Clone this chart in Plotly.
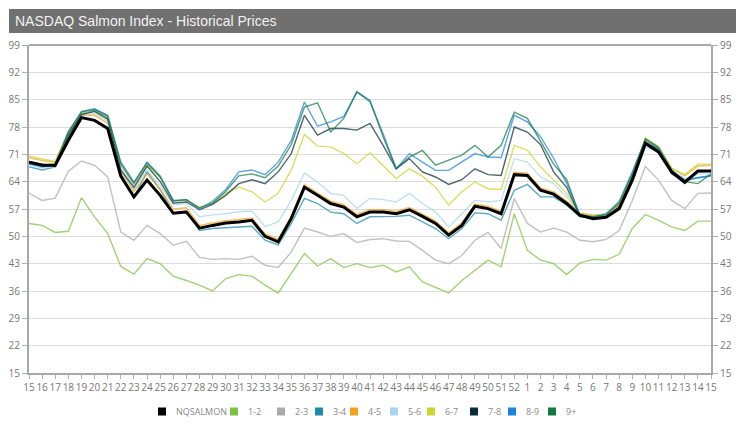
import plotly.graph_objects as go

weeks = [str(w) for w in range(15, 53)] + [str(w) for w in range(1, 16)]

nqsalmon = [69.0, 68.2, 68.2, 74.6, 80.4, 79.7, 77.6, 65.4, 60.1, 64.4, 60.5, 55.9, 56.2,
            52.1, 52.8, 53.4, 53.7, 54.1, 50.0, 48.6,
            54.6, 62.6, 60.5, 58.4, 57.5, 55.0, 56.2, 56.2, 55.8, 56.8, 55.1, 53.3, 50.3, 52.8, 57.7, 57.1, 55.8,
            65.8, 65.6, 61.8, 60.8, 58.4,
            55.4, 54.5, 54.9, 57.1, 64.4, 73.8, 71.6, 66.5, 63.9, 66.7, 66.7]
s12 = [53.3, 52.8, 51.0, 51.3, 59.9, 55.0, 50.7, 42.3, 40.3, 44.3, 43.0, 39.8, 38.7,
       37.5, 36.0, 39.2, 40.2, 39.8, 37.5, 35.5,
       40.5, 45.6, 42.4, 44.3, 42.0, 43.0, 42.0, 42.6, 40.9, 42.2, 38.3, 36.8, 35.5, 38.7, 41.3, 43.9, 42.2,
       55.8, 46.4, 43.9, 43.0, 40.2,
       43.2, 44.1, 43.9, 45.4, 52.0, 55.6, 54.1, 52.4, 51.5, 53.9, 53.9]
s23 = [61.1, 59.2, 59.8, 66.7, 69.3, 68.2, 65.2, 51.1, 49.0, 52.8, 50.7, 47.7, 48.7,
       44.6, 44.1, 44.3, 44.1, 44.9, 42.6, 42.0,
       46.0, 52.1, 51.1, 50.0, 50.7, 48.4, 49.2, 49.4, 48.8, 48.7, 46.4, 43.9, 43.0, 45.1, 49.0, 51.0, 46.9,
       59.7, 53.3, 51.1, 52.1, 51.1,
       49.0, 48.6, 49.2, 51.5, 59.2, 67.9, 64.4, 59.2, 57.1, 61.0, 61.1]
s34 = [67.8, 67.0, 67.8, 76.0, 81.3, 82.3, 80.3, 66.0, 60.0, 66.5, 62.0, 56.0, 56.5,
       51.5, 52.0, 52.2, 52.4, 52.6, 49.0, 47.8,
       53.3, 59.7, 58.4, 56.2, 55.8, 53.3, 55.0, 55.0, 55.1, 55.4, 53.7, 52.0, 49.4, 52.0, 56.0, 55.8, 54.1,
       61.8, 63.3, 60.1, 60.1, 58.0,
       55.0, 54.8, 55.5, 58.0, 65.5, 74.5, 72.0, 66.0, 64.2, 65.0, 65.5]
s45 = [70.2, 69.4, 69.0, 76.3, 81.0, 81.0, 79.0, 66.5, 61.5, 66.0, 62.0, 57.0, 57.3,
       52.8, 53.4, 54.0, 54.3, 54.7, 50.6, 49.2,
       55.2, 63.2, 61.1, 59.0, 58.1, 55.6, 56.8, 56.8, 56.4, 57.4, 55.7, 53.9, 50.9, 53.4, 58.3, 57.7, 56.4,
       66.4, 66.2, 62.4, 61.4, 59.0,
       56.0, 55.5, 55.5, 58.0, 65.0, 74.5, 72.5, 67.5, 65.5, 68.0, 68.2]
s56 = [68.3, 67.5, 67.8, 75.5, 80.8, 81.5, 79.5, 67.0, 62.0, 67.0, 63.0, 58.0, 58.3,
       55.0, 55.5, 55.8, 56.3, 56.5, 52.5, 53.7,
       59.2, 66.2, 63.9, 61.0, 60.5, 57.1, 59.7, 59.4, 58.8, 61.0, 58.4, 56.2, 52.4, 55.8, 59.2, 58.8, 59.2,
       69.9, 69.0, 65.2, 63.5, 60.1,
       55.5, 55.0, 55.3, 57.5, 64.5, 72.8, 71.8, 67.0, 64.8, 66.0, 66.0]
s67 = [70.6, 69.8, 69.2, 76.8, 81.5, 82.0, 80.2, 68.0, 63.2, 68.3, 65.0, 59.0, 59.2,
       57.5, 58.5, 61.0, 62.6, 61.4, 58.8, 61.0,
       67.0, 76.1, 73.1, 72.9, 71.2, 68.6, 71.4, 68.2, 64.8, 67.3, 65.4, 62.6, 58.0, 61.4, 63.9, 62.2, 62.0,
       73.3, 72.0, 67.8, 64.4, 61.0,
       55.8, 55.3, 55.8, 58.5, 65.2, 75.2, 73.0, 67.5, 65.8, 68.5, 68.5]
s78 = [69.2, 68.5, 68.0, 75.8, 81.2, 82.0, 80.0, 67.0, 62.5, 68.0, 64.0, 58.5, 58.8,
       56.8, 58.2, 60.5, 63.5, 64.5, 63.5, 66.5,
       71.2, 81.0, 75.9, 77.6, 77.6, 77.2, 78.9, 73.3, 67.3, 69.9, 66.5, 65.2, 63.3, 64.5, 67.3, 65.8, 65.6,
       78.0, 76.7, 73.5, 66.5, 62.5,
       55.2, 54.6, 55.0, 57.5, 65.0, 74.0, 72.2, 66.2, 63.5, 66.5, 66.8]
s89 = [68.5, 67.8, 68.2, 76.5, 82.0, 82.7, 81.0, 68.5, 63.5, 69.0, 65.5, 59.0, 59.4,
       57.0, 59.0, 62.0, 66.5, 67.0, 65.8, 69.0,
       74.6, 84.4, 78.2, 79.3, 80.7, 87.0, 84.4, 76.3, 67.3, 71.2, 69.0, 66.9, 66.9, 69.0, 71.2, 70.3, 70.2,
       81.0, 79.3, 75.5, 70.0, 63.5,
       55.6, 55.0, 55.8, 59.0, 66.5, 74.8, 72.5, 66.8, 64.5, 65.0, 65.5]
s9p = [69.0, 68.3, 68.5, 76.8, 81.8, 82.5, 80.8, 69.0, 63.9, 68.8, 65.2, 59.2, 59.4,
       57.3, 58.5, 61.5, 65.5, 66.0, 65.0, 68.0,
       73.5, 83.1, 84.2, 76.7, 80.2, 87.0, 84.8, 75.5, 67.3, 70.3, 72.0, 68.2, 69.5, 70.8, 73.3, 70.3, 73.3,
       81.8, 80.2, 74.5, 68.5, 64.5,
       55.3, 55.0, 55.5, 58.5, 66.0, 75.0, 72.8, 67.0, 64.0, 63.5, 66.0]

names = ["NQSALMON", "1-2", "2-3", "3-4", "4-5", "5-6", "6-7", "7-8", "8-9", "9+"]
series = [nqsalmon, s12, s23, s34, s45, s56, s67, s78, s89, s9p]
colors = ["#000000", "#7cc242", "#aaaaaa", "#1b8ba6", "#f5a31a", "#a9d7ea",
          "#c6d82a", "#0b2a3d", "#1c84e0", "#147a42"]
yticks = [15, 22, 29, 36, 43, 50, 57, 64, 71, 78, 85, 92, 99]

# page body has an 8px margin: work in screen pixels and shift by it
OFF = 8
W, H = 744 - 2 * OFF, 431 - 2 * OFF
L, R, T, B = 29 - OFF, 711 - OFF, 45 - OFF, 373 - OFF


def px(x):
    return (x - OFF - L) / (R - L)


def py(y):
    return (B - (y - OFF)) / (B - T)


xs = list(range(len(weeks)))
fig = go.Figure()
for name, vals, col in list(zip(names, series, colors))[1:] + [(names[0], series[0], colors[0])]:
    is_idx = name == "NQSALMON"
    fig.add_trace(go.Scatter(
        x=xs, y=vals, mode="lines", name=name,
        line=dict(color=col, width=3 if is_idx else 1.4),
        opacity=1.0 if is_idx else 0.72,
        showlegend=False, hoverinfo="skip"))
fig.add_trace(go.Scatter(x=[0], y=[None], yaxis="y2", showlegend=False, hoverinfo="skip"))

shapes = []
annotations = []
shapes.append(dict(type="rect", xref="paper", yref="paper",
                   x0=px(9), x1=px(744), y0=py(33), y1=py(9),
                   fillcolor="#707070", line=dict(width=0), layer="below"))
annotations.append(dict(text="NASDAQ Salmon Index - Historical Prices", xref="paper", yref="paper",
                        x=px(13), y=py(21), xanchor="left", yanchor="middle", showarrow=False,
                        font=dict(family="Liberation Sans, Arial", size=14, color="#f2f2f2")))
shapes.append(dict(type="line", xref="paper", yref="paper", x0=0, x1=1, y0=1, y1=1,
                   line=dict(color="#a8a8a8", width=2)))
leg_x = [158, 230, 277, 315, 350, 390, 427, 470, 508, 548]
for lx, name, col in zip(leg_x, names, colors):
    shapes.append(dict(type="rect", xref="paper", yref="paper",
                       x0=px(lx), x1=px(lx + 8), y0=py(415.5), y1=py(407.5),
                       fillcolor=col, line=dict(width=0)))
    annotations.append(dict(text=name, xref="paper", yref="paper", x=px(lx + 16), y=py(411.5),
                            xanchor="left", yanchor="middle", showarrow=False,
                            font=dict(family="Open Sans", size=9, color="#888888")))

axis_font = dict(family="Open Sans", size=10, color="#777777")
fig.update_layout(
    width=W, height=H,
    margin=dict(l=L, r=W - R, t=T, b=H - B, pad=0),
    paper_bgcolor="white", plot_bgcolor="white",
    showlegend=False,
    shapes=shapes, annotations=annotations,
    xaxis=dict(range=[0, len(weeks) - 1], tickmode="array", tickvals=xs, ticktext=weeks,
               showgrid=False, zeroline=False, showline=True, linecolor="#a8a8a8", linewidth=2,
               ticks="outside", ticklen=4, tickcolor="#b0b0b0", tickfont=axis_font, tickangle=0,
               automargin=False),
    yaxis=dict(range=[15, 99], tickmode="array", tickvals=yticks, showgrid=True,
               gridcolor="#dcdcdc", gridwidth=1, zeroline=False, showline=True,
               linecolor="#a8a8a8", linewidth=2, ticks="outside", ticklen=5, tickcolor="#b0b0b0",
               tickfont=axis_font, automargin=False),
    yaxis2=dict(range=[15, 99], tickmode="array", tickvals=yticks, overlaying="y", side="right",
                showgrid=False, zeroline=False, showline=True, linecolor="#a8a8a8", linewidth=2,
                ticks="outside", ticklen=5, tickcolor="#b0b0b0", tickfont=axis_font,
                automargin=False),
)
fig.write_html("out.html")
